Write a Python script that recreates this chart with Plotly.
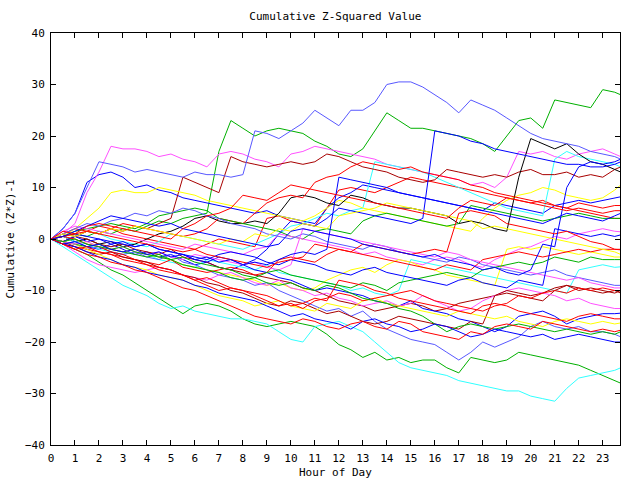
import plotly.graph_objects as go

HOURS = [i * 0.5 for i in range(48)] + [23.75]

# colour names used by the series
COLORS = {
    "red": "#ff0000", "green": "#00b000", "blue": "#0000ff", "magenta": "#ff50ff",
    "cyan": "#30ffff", "darkred": "#a80000", "yellow": "#ffff00", "black": "#000000",
    "lightblue": "#5858ff",
}

green_top = [0, 0.5, 1, 0.5, 1.5, 1, 2, 1.5, 2.5, 3.5, 3, 4, 4.5, 5, 17, 23,
             21.5, 20, 21, 21.5, 21, 20.5, 19, 18, 16.5, 16, 17.5, 21, 24.5, 23, 21.5, 21.5,
             21, 20.5, 20, 19.5, 18.5, 17, 20, 23, 23.5, 21.5, 27, 26.5, 26, 25.5, 29, 28.5, 28]
lightblue_top = [0, 2, 5, 10, 15, 14.5, 14, 13, 13.5, 13, 12.5, 12, 13, 12.5, 12.5, 12,
                 12.5, 21, 20.5, 19.5, 21, 22.5, 25, 23.5, 22, 25, 25, 26.5, 30, 30.5, 30.5, 29.5,
                 28, 26.5, 24.5, 27, 26, 25, 23.5, 22, 20.5, 19.5, 19, 18.5, 18, 17, 16.5, 16, 15.5]
magenta_top = [0, 1, 3, 9, 13, 18, 17.5, 17.5, 17, 16, 16.5, 15.5, 15, 14, 16.5, 17,
               16.5, 15.5, 15, 14, 16.5, 17, 18, 17.5, 17, 16.5, 16, 15.5, 14.5, 14, 13.5, 13,
               12.5, 12, 11.5, 10.5, 11, 10, 12, 17, 16.5, 17, 16, 15.5, 16.5, 17, 17.5, 16.5, 16]
darkred_top = [0, 1, 0.5, 1.5, 1, 2, 1.5, 2.5, 2, 3, 4, 12, 11, 10, 9, 16,
               15, 14.5, 14, 14.5, 15, 14.5, 15, 16.5, 16, 15, 14, 13.5, 13, 12, 11.5, 11,
               11.5, 13.5, 13, 12.5, 12, 12.5, 12, 13, 13.5, 12.5, 12.5, 13, 12, 12.5, 12, 13.5, 14]
cyan_bottom = [0, -1.5, -3, -4.5, -6, -7.5, -9, -10, -11, -12.5, -13.5, -13, -14, -14.5, -15, -15.5,
               -15.5, -16, -16.5, -18, -19.5, -20, -17, -16.5, -16, -17, -18, -20, -22, -24, -25, -25.5,
               -26, -26.5, -27.5, -28, -28.5, -29, -29.5, -29.5, -30.5, -31, -31.5, -29, -27, -26.5, -26, -25.5, -25]
green_bottom = [0, -1, -2, -3, -4.5, -6, -7, -8.5, -10, -11.5, -13, -14.5, -13, -12.5, -13, -14,
                -15.5, -16.5, -17, -16.5, -16, -16.5, -17, -18.5, -20.5, -21.5, -23, -22, -23.5, -23, -24, -23.5,
                -23.5, -25, -26, -23, -23.5, -24, -23.5, -22, -22.5, -23, -23.5, -24, -24.5, -25.5, -26.5, -27.5, -28]
black_jump = [0, 0.5, -0.5, 0, -1, -0.5, -1.5, -1, 0, 1, 1.5, 2.5, 4, 4.5, 3.5, 3,
              3, 3.5, 3, 5, 8, 8.5, 8, 7, 6.5, 8.5, 8, 7, 6.5, 6, 6, 5.5,
              5, 4.5, 3, 3.5, 3, 2, 1.5, 12, 19.5, 18.5, 17.5, 18.5, 16.5, 15, 14.5, 13.5, 13]
lightblue_low = [0, -0.5, -1, -2, -1.5, -2.5, -3, -2.5, -3.5, -4, -3, -4.5, -5, -6, -7, -7.5,
                 -8, -9, -8.5, -10, -11, -12, -13, -14, -13.5, -15, -14, -16, -17.5, -18.5, -19.5, -20,
                 -20.5, -22, -23.5, -22, -20, -21, -20, -19, -17, -16, -17, -17.5, -17, -18, -18, -18.5, -19]
yellow_hi = [0, 0.5, 2, 4, 6, 9, 9.5, 9, 9, 10, 9.5, 9, 8.5, 7.5, 7, 6.5,
             6, 5.5, 5, 4.5, 4, 3.5, 4.5, 6, 7.5, 7, 6, 5.5, 5, 4.5, 4, 3.5,
             3, 2.5, 2, 1.5, 4, 6, 7.5, 8.5, 9, 10, 9.5, 8.5, 8, 7.5, 8, 9.5, 10.5]
red_a = [0, 1, 2, 1.5, 2.5, 2, 1, 0.5, 0, -0.5, -1, -1.5, -2, -1, 0, -0.5,
         -1, -1.5, 4, 4.5, 3.5, 3, 2.5, 6, 9.5, 10, 9.5, 9, 10, 11, 12, 11.5,
         11, 10.5, 10, 9.5, 9, 8.5, 8, 7.5, 7, 7.5, 6.5, 6, 7, 6.5, 6, 6.5, 6.5]
red_b = [0, -0.5, 0.5, 1.5, 1, 2, 3, 2.5, 2, 1.5, 1, 0.5, 1, 2, 4, 3.5,
         3, 5, 7, 8, 8.5, 8, 11, 12, 12.5, 14, 15, 14.5, 14, 13.5, 14, 13,
         12.5, 12, 11.5, 10.5, 10, 9, 8.5, 8, 7.5, 7, 6.5, 6, 5.5, 5, 4.5, 4, 4]
blue_a = [0, 2, 5, 11, 12.5, 13, 12, 10, 10.5, 9.5, 9, 8, 7.5, 7, 6.5, 6,
          5.5, 5, 5.5, 4.5, 4, 3.5, 3, 6, 8, 9, 10.5, 10, 9.5, 9, 8.5, 8,
          7.5, 7, 6.5, 6, 5.5, 7, 6.5, 6, 5.5, 5, 6.5, 7, 7.5, 7, 7.5, 8, 8.2]
blue_b = [0, -1, -0.5, -1.5, -2, -1, -2, -3, -2.5, -3.5, -3, -4, -5, -4.5, -5.5, -6,
          -5, -4, -2, 1, 3.5, 3, 2.5, 4, 6, 5.5, 5, 4.5, 4, 3.5, 3, 4,
          21, 20.5, 20, 19, 18.5, 17.5, 17, 16.5, 16, 15.5, 15, 14.5, 14.5, 14, 14, 14.5, 15]
cyan_mid = [0, 1, 0.5, 1.5, 1, 0, -0.5, -1, -1.5, -0.5, 1, 0.5, 0, -0.5, -1, -1.5,
            -2, -1, 0, 1, 2.5, 3, 4, 5, 4.5, 5.5, 6, 15, 14.5, 14, 13.5, 13,
            12, 11, 10, 9, 8, 7, 6, 5.5, 5, 4.5, 15.5, 17, 16, 15.5, 15, 14.5, 14]
magenta_b = [0, 1.5, 2.5, 2, 1.5, 1, 0.5, 0, -0.5, -1, -1.5, -2, -1, -1.5, -2, -2.5,
             -3, -2, -1.5, 1, 0.5, 0, -0.5, -1, -1.5, -2, -3, -2.5, -3.5, -4, -4.5, -5,
             -4, -3.5, -4, -5, -5.5, -4, -3, -2, -1.5, -0.5, 0.5, 0, 1, 1.5, 2, 1.5, 1.4]
magenta_c = [0, -1, -2.5, -4, -5, -5.5, -6, -6.5, -6, -5.5, -6, -7, -7.5, -8, -7, -6.5,
             -7.5, -8.5, -9, -8, -9.5, -10, -11, -10.5, -11.5, -12, -13, -12.5, -12, -13, -12.5, -11,
             -12, -13, -14, -13.5, -12, -11, -10, -9.5, -10, -10.5, -11, -12, -11.5, -12.5, -13, -13.5, -13.5]
red_c = [0, -1, -1.5, -2, -2.5, -3, -3.5, -4, -4.5, -5, -4, -5.5, -6, -6.5, -6, -5.5,
         -6, -7, -6.5, -4, -3.5, -4, -4.5, -3, -2, -2.5, -3, -3.5, -4, -4.5, -5, -5.5,
         -6, -5, -5.5, -6, -4, -3.5, -3, -2.5, -3, -3.5, -3, -2.5, -2, -2.5, -2, -2, -2]
yellow_b = [0, -0.5, -1, -0.5, -1.5, -2, -2.5, -2, -3, -3.5, -4, -5, -5.5, -6, -6.5, -7,
            -7.5, -8, -9, -8.5, -9.5, -10, -9.5, -8, -7, -6, -5.5, -6.5, -5, -4, -4.5, -5.5,
            -6, -7, -7.5, -8, -8.5, -9, -2, -1.5, -2, -1.5, -2, -2.5, -3, -2.5, -3, -3.5, -3.5]
cyan_c = [0, 0.5, -0.5, -1, -2, -2.5, -3, -2.5, -3, -4, -4.5, -5, -5.5, -4, -4.5, -5,
          -5.5, -6, -5, -6.5, -7, -7.5, -8, -8.5, -9, -10, -9.5, -10.5, -11, -10, -4, -4.5,
          -5, -5.5, -6, -6.5, -7, -7.5, -8, -8.5, -9, -9.5, -10, -10.5, -6, -5.5, -5, -5.5, -5.4]
red_d = [0, 0.5, 0, -1, -1.5, -2.5, -3, -4, -5, -6, -6.5, -7, -8, -9, -10, -9.5,
         -10, -11, -12, -13, -12.5, -13.5, -12, -11.5, -10.5, -11, -12, -11.5, -11, -10.5, -10, -11,
         -12, -12.5, -13, -13.5, -14, -13, -12.5, -11, -11.5, -10.5, -10, -10.5, -9.5, -10, -9.5, -10, -10]
darkred_b = [0, -0.5, 0.5, 0, -1, -1.5, -1, -2, -2.5, -3, -2, -3.5, -4, -4.5, -5.5, -6,
             -6.5, -7, -7.5, -8, -8.5, -9.5, -10, -11, -12, -12.5, -13, -14, -13.5, -13, -12.5, -13,
             -14, -13.5, -12.5, -12, -11.5, -11, -10.5, -11, -11.5, -12, -10, -9, -9.5, -10, -10.5, -10, -10.5]
blue_c = [0, -0.5, 0.5, -0.5, 0, -1, -0.5, -1.5, -1, -2, -2.5, -3, -4, -4.5, -3.5, -4,
          -5, -6, -6.5, -7.5, -8, -9, -10, -9.5, -10, -10.5, -11, -12, -12.5, -13, -12, -13.5,
          -14, -14.5, -15.5, -16, -17, -18, -17, -15, -14.5, -14, -15, -16.5, -15.5, -15, -14.5, -14.5, -14.4]
yellow_c = [0, -0.5, -1, -2, -3, -4, -5, -5.5, -6, -7, -7.5, -8, -9, -10, -11, -11.5,
            -12, -13, -12.5, -12, -13, -13.5, -14, -12.5, -13, -13.5, -12, -11.5, -12.5, -13, -13.5, -14,
            -14.5, -15, -14, -14.5, -15, -15.5, -15, -16, -16.5, -17, -16, -15.5, -16, -16.5, -16, -16.5, -16.3]
red_e = [0, -1, -2, -3, -3.5, -4.5, -5, -6, -6.5, -7.5, -8.5, -9.5, -10, -11, -12, -13,
         -14, -15, -15.5, -16, -16.5, -15.5, -16, -17, -17.5, -16.5, -16, -17, -17.5, -16, -16.5, -18,
         -18.5, -19, -19.5, -18, -18.5, -17, -16.5, -17, -17.5, -16, -16.5, -17, -17.5, -18, -17.5, -18, -17.7]
blue_d = [0, -1, -1.5, -2.5, -3.5, -4, -5, -5.5, -6.5, -7, -7.5, -8, -9, -9.5, -10.5, -11,
          -11.5, -12, -13, -14, -15, -14.5, -15.5, -16, -16.5, -17.5, -16, -15.5, -16.5, -17, -18, -17.5,
          -16.5, -17, -18, -19, -18.5, -17.5, -18, -18.5, -19, -18.5, -19.5, -19, -18.5, -19, -19.5, -20, -20]
green_mid = [0, 0.5, 1.5, 2, 2.5, 3, 2.5, 2, 3, 4.5, 5, 5.5, 6, 5.5, 4, 3.5,
             3, 2.5, 2, 1.5, 0.5, 0, 1.5, 2, 1.5, 1, 3.5, 4.5, 5, 4.5, 4, 3.5,
             3, 2.5, 3, 6.5, 6, 5.5, 5, 4.5, 4, 3.5, 4, 4.5, 5, 4.5, 4, 4, 4]
green_c = [0, -0.5, -1, -1.5, -1, -2, -2.5, -3, -3.5, -3, -4, -5, -5.5, -6, -6.5, -7.5,
           -8, -7.5, -8.5, -9, -8.5, -9.5, -10, -9, -9.5, -10.5, -11.5, -12, -12.5, -13.5, -14, -15,
           -16.5, -18, -17, -16.5, -17, -17.5, -17, -16.5, -17, -17.5, -18, -17.5, -18, -18.5, -18, -18.5, -18]
blue_e = [0, 0.5, 1, 0.5, 0, -0.5, -1, -1.5, -1, -2, -2.5, -3, -3.5, -4, -3, -2.5,
          -3, -3.5, -4.5, -5, -4, -4.5, -5, -6, -6.5, -7, -6, -5.5, -6.5, -7, -7.5, -8,
          -8.5, -9, -8, -7.5, -8.5, -9, -9.5, -8, -8.5, -9, 2, 1.5, 1, 0.5, 1, 0.5, 0.8]
blue_f = [0, -1, -0.5, -1.5, -1, -2, -2.5, -2, -3, -2.5, -3.5, -3, -4, -3.5, -4.5, -4,
          -5, -4.5, -5, -4, -3, -2.5, -3, -2, 12, 11.5, 11, 10.5, 10, 9, 8.5, 8,
          7.5, 7, 6.5, 6, 5.5, 5, 4.5, 4, 3.5, 3, 4, 5, 4.5, 4, 3.5, 4.5, 5]
red_f = [0, 0.5, 1, 1.5, 1, 0.5, 0, -0.5, -1, -1.5, -2, -2.5, -2, -3, -3.5, -4,
         -4.5, -5, -5.5, -4.5, -4, -3.5, -1, -1.5, -2, -2.5, -1, -1.5, -2, -2.5, -3, -2.5,
         -2, -2.5, 5, 5.5, 5, 4.5, 3, 2.5, 2, 1.5, 1, 1.5, 0.5, -0.5, -1, -2, -2.1]
red_g = [0, -1, -2, -1.5, -2.5, -3, -4, -4.5, -5, -5.5, -6, -7, -8, -7.5, -8.5, -9.5,
         -10, -10.5, -11, -12, -13, -12.5, -11.5, -12, -8, -8.5, -9, -10, -10.5, -11.5, -12, -12.5,
         -13, -13.5, -14, -14.5, -13, -12.5, -13, -14, -14.5, -15, -15.5, -16, -15, -14.5, -15, -15.5, -15.5]
darkred_c = [0, -0.5, -1.5, -2.5, -3, -2.5, -3.5, -4, -4.5, -5.5, -6, -7, -7.5, -8.5, -9, -10,
             -10.5, -11.5, -12.5, -13, -12, -12.5, -13.5, -14.5, -14, -15, -16, -16.5, -16, -15, -15.5, -16,
             -16.5, -17, -17.5, -16, -16.5, -11, -10, -10.5, -11, -10.5, -9.5, -9, -10, -9.5, -10, -10.5, -10]
lightblue_mid = [0, 1, 2, 3, 2.5, 3.5, 4, 5, 4.5, 5.5, 5, 6, 5.5, 4.5, 4, 3,
                 2.5, 2, 1, 0.5, 0, 1, 0.5, -0.5, -1, -1.5, -2, -1, -1.5, -2.5, -3, -3.5,
                 -4, -4.5, -3.5, -4, -5, -5.5, -6, -6.5, -7, -6.5, -6, -7, -7.5, -8, -8.5, -9, -9]
blue_g = [0, 0.5, 1.5, 2.5, 3.5, 4.5, 4, 3.5, 3, 2.5, 3, 2, 1.5, 1, 0.5, 0,
          -0.5, -1, -1.5, -1, 1.5, 2, 1.5, 1, 0.5, 0, -1, -1.5, -2, -2.5, -3, -3.5,
          -3, -4, -4.5, -5, -6, -5.5, -6.5, -7, -6, -1, -1.5, 10, 14, 15, 14.5, 15, 15.5]
green_d = [0, -0.5, 0, -1, -1.5, -2, -1.5, -2.5, -3, -3.5, -4, -3.5, -4.5, -5, -5.5, -6,
           -7, -7.5, -6.5, -6, -7, -7.5, -8, -8.5, -9, -9.5, -8.5, -9, -10, -8.5, -8, -7.5,
           -7, -6.5, -7, -7.5, -6, -5.5, -5, -4.5, -5, -4.5, -3.5, -4, -4.5, -3.5, -4, -4, -4]
yellow_d = [0, 1, 0.5, 1.5, 1, 2, 1.5, 2.5, 2, 1.5, 1, 0.5, 0, -0.5, -1, 0,
            -0.5, 1, 0.5, 2, 1.5, 3, 2.5, 2, 4.5, 5, 5.5, 6, 7, 6.5, 6, 5.5,
            5, 4.5, 4, 3.5, 2, 2.5, 2, 1.5, 1, 0.5, 0, -0.5, -1, -1.5, -2, -2.5, -3]
magenta_d = [0, -0.5, -1, -0.5, -1.5, -2, -1.5, -2.5, -3, -2.5, -3.5, -4, -3, -3.5, -4, -4.5,
             -5, -4.5, -5.5, -6, -5, 2, 1.5, 1, 0.5, 0, -0.5, -1, -1.5, -2, -2.5, -3,
             -3.5, -2.5, -3, -4, -4.5, -5, -5.5, -6, -6.5, -7, -7.5, -8, -7.5, -8.5, -9, -9.5, -9.5]
red_h = [0, 1.5, 1, 2.5, 3, 2.5, 2, 1.5, 1, 0.5, 0, 2, 3, 4.5, 5, 6,
         8.5, 8, 7.5, 9, 10.5, 10, 9.5, 9, 8.5, 8, 7.5, 7, 6.5, 6, 5.5, 5,
         4.5, 4, 6, 7.5, 7, 6.5, 8, 7.5, 7, 6.5, 6, 5.5, 6, 5.5, 5, 5.5, 5.5]

SERIES = [
    ("red", red_a), ("green", green_top), ("blue", blue_a), ("magenta", magenta_top),
    ("cyan", cyan_mid), ("darkred", darkred_top), ("yellow", yellow_hi), ("black", black_jump),
    ("lightblue", lightblue_top), ("red", red_b), ("green", green_mid), ("blue", blue_b),
    ("magenta", magenta_b), ("cyan", cyan_c), ("darkred", darkred_b), ("yellow", yellow_b),
    ("lightblue", lightblue_low), ("red", red_c), ("green", green_bottom), ("blue", blue_c),
    ("magenta", magenta_c), ("cyan", cyan_bottom), ("darkred", darkred_c), ("yellow", yellow_c),
    ("lightblue", lightblue_mid), ("red", red_d), ("green", green_c), ("blue", blue_d),
    ("magenta", magenta_d), ("red", red_e), ("green", green_d), ("blue", blue_e),
    ("yellow", yellow_d), ("red", red_f), ("blue", blue_f), ("red", red_g),
    ("blue", blue_g), ("red", red_h),
]

X_TICKS = list(range(24))
Y_TICKS = list(range(-40, 41, 10))

FONT = "DejaVu Sans Mono"

fig = go.Figure()
for cname, vals in SERIES:
    fig.add_trace(go.Scatter(x=HOURS, y=vals, mode="lines",
                             line=dict(color=COLORS[cname], width=1),
                             hoverinfo="skip", showlegend=False))

fig.update_layout(
    width=640, height=480,
    margin=dict(l=51, r=20, t=33, b=35),
    paper_bgcolor="white", plot_bgcolor="white",
    font=dict(family=FONT, size=11, color="black"),
    title=dict(text="Cumulative Z-Squared Value", x=0.524, xanchor="center",
               y=0.967, yanchor="middle", font=dict(family=FONT, size=11)),
    xaxis=dict(range=[0, 23.72], tickvals=X_TICKS, ticks="inside", ticklen=5,
               tickcolor="black", showline=True, linecolor="black", linewidth=1,
               mirror="ticks", showgrid=False, zeroline=False, automargin=False,
               ticklabelstandoff=3, tickfont=dict(family=FONT, size=11)),
    yaxis=dict(range=[-40, 40], tickvals=Y_TICKS, ticks="inside", ticklen=5,
               tickcolor="black", showline=True, linecolor="black", linewidth=1,
               mirror="ticks", showgrid=False, zeroline=False, automargin=False,
               ticklabelstandoff=3,
               title=dict(text="Cumulative (Z*Z)-1", standoff=8, font=dict(family=FONT, size=11))),
    annotations=[dict(text="Hour of Day", xref="paper", yref="paper", x=0.5, y=-0.066,
                      xanchor="center", yanchor="middle", showarrow=False,
                      font=dict(family=FONT, size=11))],
)

fig.write_html("out.html")
